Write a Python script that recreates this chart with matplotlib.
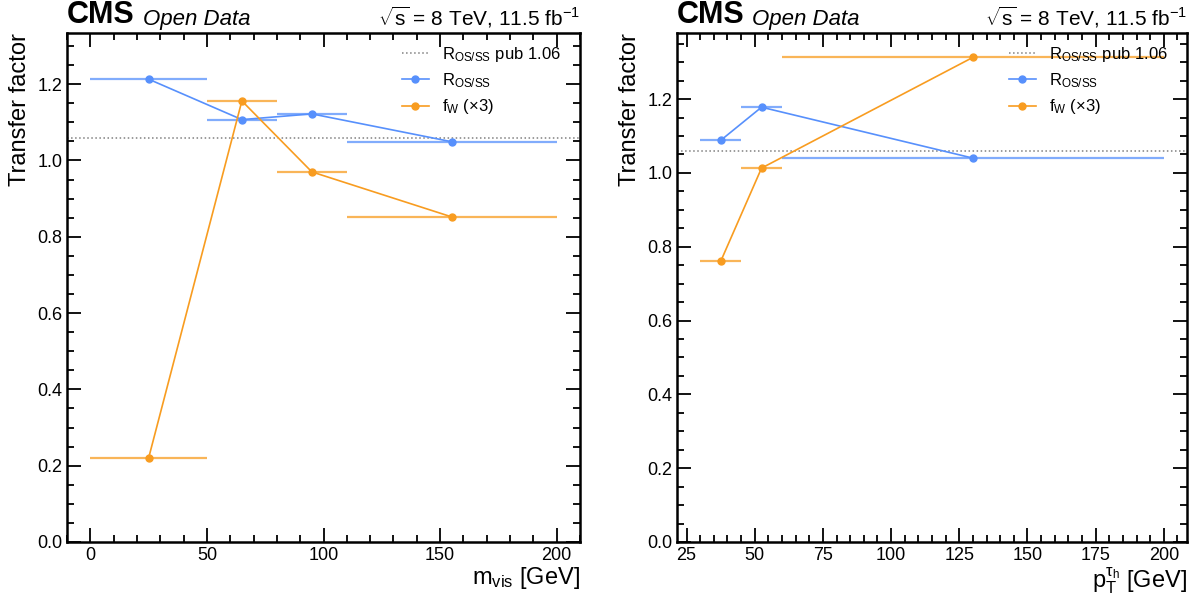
import numpy as np
import matplotlib
matplotlib.use("Agg")
import matplotlib.pyplot as plt
from matplotlib.ticker import MultipleLocator

plt.rcParams['font.family'] = ['Liberation Sans', 'DejaVu Sans']
plt.rcParams['mathtext.fontset'] = 'custom'
plt.rcParams['mathtext.rm'] = 'Liberation Sans'
plt.rcParams['mathtext.it'] = 'Liberation Sans'
plt.rcParams['mathtext.bf'] = 'Liberation Sans:bold'

# bins en masse visible
mvis_edges = [0, 50, 80, 110, 200]
mvis_ros = [1.213, 1.107, 1.122, 1.049]
mvis_fw3 = [0.220, 1.156, 0.970, 0.852]

# bins en pT du tau hadronique
pt_edges = [30, 45, 60, 200]
pt_ros = [1.088, 1.178, 1.040]
pt_fw3 = [0.760, 1.013, 1.313]

ros_pub = 1.06

c_ros = '#5790fc'
c_fw = '#f89c20'

fig = plt.figure(figsize=(11.97, 5.96), dpi=100)
ax1 = fig.add_axes([67/1197, 1 - 542/596, 513/1197, 509/596])
ax2 = fig.add_axes([677/1197, 1 - 542/596, 510/1197, 509/596])


def panel(ax, edges, ros, fw3, xlabel, ytop, xmaj, xmin):
    edges = np.array(edges, dtype=float)
    centers = 0.5 * (edges[1:] + edges[:-1])
    halfw = 0.5 * (edges[1:] - edges[:-1])

    ax.axhline(ros_pub, color='grey', ls=':', lw=1.1, label=r'$\mathrm{R_{OS/SS}}$ pub 1.06')
    ax.errorbar(centers, ros, xerr=halfw, fmt='none', ecolor=c_ros, elinewidth=1.6, alpha=0.75)
    ax.plot(centers, ros, color=c_ros, marker='o', ms=5, lw=1.2, label=r'$\mathrm{R_{OS/SS}}$')
    ax.errorbar(centers, fw3, xerr=halfw, fmt='none', ecolor=c_fw, elinewidth=1.6, alpha=0.75)
    ax.plot(centers, fw3, color=c_fw, marker='o', ms=5, lw=1.2, label=r'$\mathrm{f_W}$ (×3)')

    pad = 0.05 * (edges[-1] - edges[0])
    ax.set_xlim(edges[0] - pad, edges[-1] + pad)
    ax.set_ylim(0, ytop)

    ax.xaxis.set_major_locator(MultipleLocator(xmaj))
    ax.xaxis.set_minor_locator(MultipleLocator(xmin))
    ax.yaxis.set_major_locator(MultipleLocator(0.2))
    ax.yaxis.set_minor_locator(MultipleLocator(0.05))
    ax.tick_params(which='both', direction='in', top=True, right=True, labelsize=13, width=1.3)
    ax.tick_params(which='major', length=10)
    ax.tick_params(which='minor', length=5)
    for s in ax.spines.values():
        s.set_linewidth(1.8)

    ax.set_xlabel(xlabel, fontsize=17, loc='right', labelpad=1)
    ax.set_ylabel('Transfer factor', fontsize=17, loc='top')

    ax.text(0, 1.005, 'CMS', transform=ax.transAxes, fontsize=22, fontweight='bold',
            ha='left', va='bottom')
    ax.text(0.148, 1.005, 'Open Data', transform=ax.transAxes, fontsize=16, style='italic',
            ha='left', va='bottom')
    ax.text(1, 1.005, r'$\sqrt{s}$ = 8 TeV, 11.5 fb$^{-1}$', transform=ax.transAxes,
            fontsize=15, ha='right', va='bottom')

    ax.legend(loc='upper right', frameon=False, fontsize=12, handlelength=1.6,
              handletextpad=0.8, labelspacing=0.45, borderaxespad=0.3,
              bbox_to_anchor=(0.985, 1.0))


panel(ax1, mvis_edges, mvis_ros, mvis_fw3, r'$\mathrm{m_{vis}}$ [GeV]', 1.334, 50, 10)
panel(ax2, pt_edges, pt_ros, pt_fw3, r'$\mathrm{p_T^{\tau_h}}$ [GeV]', 1.379, 25, 5)

fig.savefig('out.png', dpi=100)
